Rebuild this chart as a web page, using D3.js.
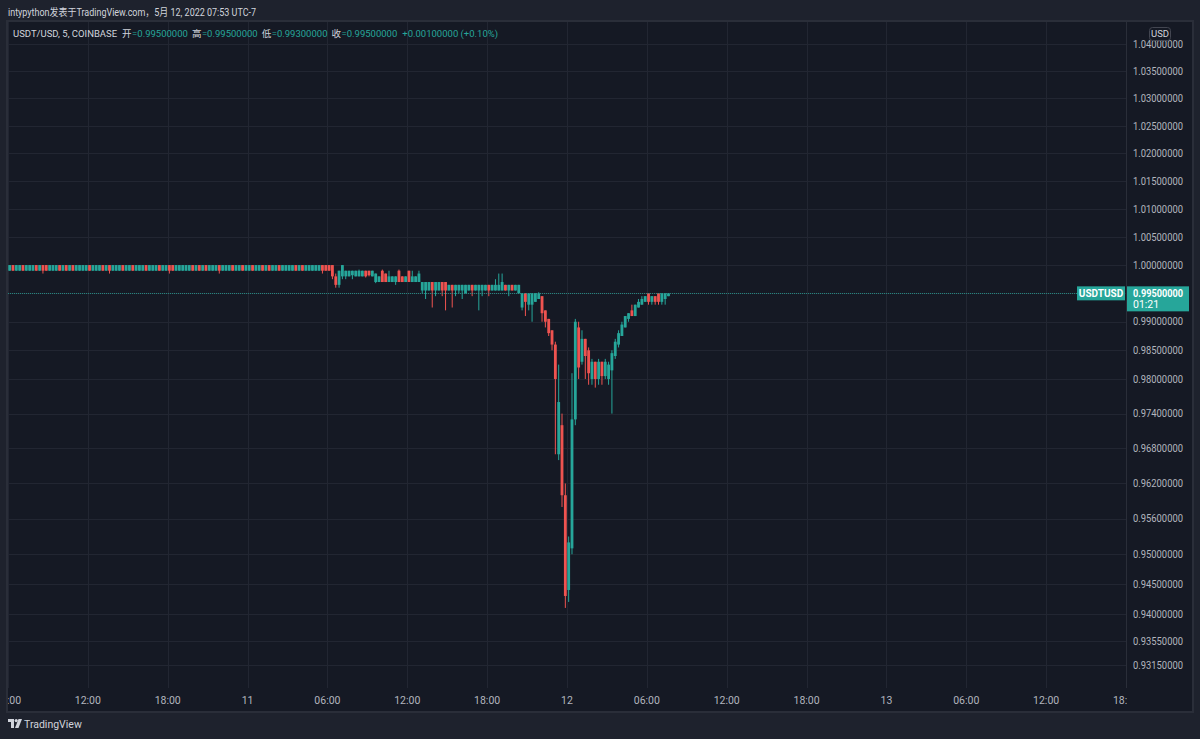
<!DOCTYPE html>
<html><head><meta charset="utf-8">
<script src="https://cdn.jsdelivr.net/npm/d3@7"></script>
<style>
html,body{margin:0;padding:0;background:#1e222d;overflow:hidden;}
svg{display:block;font-family:Roboto,"Noto Sans CJK SC",sans-serif;}
</style></head><body>
<svg id="c" width="1200" height="739"></svg>
<script>
// ---- data (prices in units of 0.0001) ----
const PIP = 1e-4;
const startTime = Date.UTC(2022, 4, 10, 6, 0);
const barMinutes = 15;
const opens = [
9990,10000,9990,9990,10000,9990,9990,9990,10000,9990,
10000,10000,9990,9990,9990,10000,9990,10000,9990,10000,
9990,9990,9990,9990,10000,9990,9990,9990,10000,9990,
10000,9990,9990,9990,10000,9990,9990,10000,9990,9990,
9990,10000,9990,9990,9990,10000,9990,9990,10000,10000,
9990,9990,9990,9990,9990,10000,9990,10000,9990,10000,
9990,9990,9990,10000,9990,9990,9990,10000,9990,9990,
10000,9990,9990,10000,9990,9990,10000,9990,10000,9990,
9990,10000,9990,9990,9990,9990,10000,9990,10000,9990,
9990,9990,9990,9990,10000,10000,10000,10000,9980,9965,
9980,9980,9980,9982,9980,9980,9980,9990,9990,9980,
9970,9970,9990,9985,9970,9970,9970,9990,9980,9970,
9990,9970,9970,9970,9955,9955,9955,9970,9955,9955,
9970,9970,9955,9965,9955,9955,9955,9950,9955,9965,
9955,9955,9955,9955,9965,9955,9955,9955,9955,9965,
9955,9965,9955,9950,9925,9950,9930,9930,9935,9940,
9945,9920,9905,9885,9860,9670,9720,9600,9440,9510,
9730,9890,9830,9870,9850,9800,9830,9800,9830,9805,
9800,9815,9840,9860,9875,9890,9905,9920,9910,9925,
9930,9935,9950,9935,9945,9950,9935,9940,9945];
const highs = [
10000,10000,10000,10000,10000,10000,10000,10000,10000,10000,
10000,10000,10000,10000,10000,10000,10000,10000,10000,10000,
10000,10000,10000,10000,10000,10000,10000,10000,10000,10000,
10000,10000,10000,10000,10000,10000,10000,10000,10000,10000,
10000,10000,10000,10000,10000,10000,10000,10000,10000,10000,
10000,10000,10000,10000,10000,10000,10000,10000,10000,10000,
10000,10000,10000,10000,10000,10000,10000,10000,10000,10000,
10000,10000,10000,10000,10000,10000,10000,10000,10000,10000,
10000,10000,10000,10000,10000,10000,10000,10000,10000,10000,
10000,10000,10000,10000,10000,10000,10000,10000,9985,9990,
10000,9990,9990,9990,9990,9992,9990,9990,9990,9990,
9985,9980,9992,9985,9990,9980,9980,9992,9980,9980,
9990,9990,9980,9990,9970,9970,9970,9970,9970,9970,
9970,9970,9965,9965,9965,9965,9965,9965,9965,9965,
9965,9965,9965,9965,9965,9965,9975,9985,9985,9965,
9965,9965,9965,9965,9950,9950,9950,9950,9950,9952,
9945,9920,9905,9885,9865,9825,9740,9620,9530,9810,
9905,9900,9885,9870,9855,9835,9830,9835,9830,9835,
9830,9850,9870,9885,9900,9910,9915,9930,9930,9940,
9945,9945,9950,9945,9945,9950,9950,9950,9950];
const lows = [
9990,9990,9990,9990,9990,9990,9990,9990,9990,9990,
9985,9990,9990,9990,9990,9990,9990,9990,9990,9990,
9990,9990,9990,9990,9990,9990,9990,9990,9990,9990,
9985,9990,9990,9990,9990,9990,9990,9990,9990,9990,
9990,9990,9990,9990,9990,9990,9990,9990,9985,9990,
9990,9990,9990,9990,9990,9990,9990,9990,9990,9990,
9990,9990,9990,9985,9990,9990,9990,9990,9990,9990,
9990,9990,9990,9990,9990,9990,9990,9990,9990,9990,
9990,9990,9990,9990,9990,9990,9990,9990,9990,9990,
9990,9990,9990,9990,9985,9990,9990,9975,9960,9960,
9975,9975,9980,9975,9980,9980,9980,9978,9980,9980,
9968,9970,9970,9970,9970,9970,9965,9970,9970,9970,
9970,9970,9970,9970,9950,9940,9955,9925,9945,9955,
9945,9920,9955,9925,9945,9950,9940,9950,9955,9945,
9955,9920,9945,9955,9945,9955,9955,9955,9955,9955,
9945,9955,9955,9950,9920,9910,9920,9900,9935,9940,
9900,9890,9875,9850,9670,9660,9580,9410,9420,9500,
9720,9800,9825,9800,9790,9790,9785,9790,9790,9800,
9790,9740,9835,9855,9875,9890,9900,9910,9910,9925,
9930,9935,9930,9930,9930,9930,9930,9930,9945];
const closes = [
10000,9990,10000,10000,9990,10000,10000,10000,9990,10000,
9990,9990,10000,10000,10000,9990,10000,9990,10000,9990,
10000,10000,10000,10000,9990,10000,10000,10000,9990,10000,
9990,10000,10000,10000,9990,10000,10000,9990,10000,10000,
10000,9990,10000,10000,10000,9990,10000,10000,9990,9990,
10000,10000,10000,10000,10000,9990,10000,9990,10000,9990,
10000,10000,10000,9990,10000,10000,10000,9990,10000,10000,
9990,10000,10000,9990,10000,10000,9990,10000,9990,10000,
10000,9990,10000,10000,10000,10000,9990,10000,9990,10000,
10000,10000,10000,10000,9990,9990,9990,9980,9965,9990,
10000,9990,9990,9990,9990,9990,9990,9980,9982,9990,
9985,9980,9970,9970,9980,9980,9980,9970,9970,9980,
9970,9980,9980,9985,9970,9970,9970,9955,9970,9970,
9955,9955,9965,9955,9965,9965,9965,9965,9965,9955,
9965,9965,9965,9965,9955,9965,9965,9965,9970,9955,
9965,9955,9965,9965,9950,9935,9950,9950,9950,9950,
9915,9900,9880,9860,9800,9760,9600,9430,9520,9730,
9900,9820,9870,9840,9810,9830,9800,9830,9805,9830,
9825,9845,9865,9880,9895,9910,9915,9910,9930,9935,
9940,9945,9935,9945,9935,9935,9950,9950,9950];

const priceTicks = [1.04,1.035,1.03,1.025,1.02,1.015,1.01,1.005,1.0,0.995,0.99,0.985,0.98,0.974,0.968,0.962,0.956,0.95,0.945,0.94,0.9355,0.9315];
const timeTicks = [
  Date.UTC(2022,4,10,6), Date.UTC(2022,4,10,12), Date.UTC(2022,4,10,18),
  Date.UTC(2022,4,11,0), Date.UTC(2022,4,11,6), Date.UTC(2022,4,11,12), Date.UTC(2022,4,11,18),
  Date.UTC(2022,4,12,0), Date.UTC(2022,4,12,6), Date.UTC(2022,4,12,12), Date.UTC(2022,4,12,18),
  Date.UTC(2022,4,13,0), Date.UTC(2022,4,13,6), Date.UTC(2022,4,13,12), Date.UTC(2022,4,13,18)];
const timeLabels = ["06:00","12:00","18:00","11","06:00","12:00","18:00","12","06:00","12:00","18:00","13","06:00","12:00","18:00"];
const lastPrice = 0.995;
const countdown = "01:21";
const symbolName = "USDTUSD";
const titleText = "intypython发表于TradingView.com，5月 12, 2022 07:53 UTC-7";
const legendItems = [
  {t:"USDT/USD, 5, COINBASE", c:"#d1d4dc", gap:0},
  {t:"开", c:"#d1d4dc", gap:5}, {t:"=0.99500000", c:"#26a69a", gap:0.5},
  {t:"高", c:"#d1d4dc", gap:4}, {t:"=0.99500000", c:"#26a69a", gap:0.5},
  {t:"低", c:"#d1d4dc", gap:4}, {t:"=0.99300000", c:"#26a69a", gap:0.5},
  {t:"收", c:"#d1d4dc", gap:4}, {t:"=0.99500000", c:"#26a69a", gap:0.5},
  {t:"+0.00100000 (+0.10%)", c:"#26a69a", gap:5}];

// ---- layout ----
const W = 1200, H = 739;
const pane = {x0: 8, x1: 1126, y0: 22, y1: 688};
const UP = "#26a69a", DOWN = "#ef5350";
const BG = "#151924", OUTER = "#1e222d", GRID = "#222632", BORDER = "#2a2e39", TXT = "#b2b5be";

const svg = d3.select("#c");
svg.append("rect").attr("width", W).attr("height", H).attr("fill", OUTER);
svg.append("rect").attr("x", 7).attr("y", 21).attr("width", 1186).attr("height", 691)
  .attr("fill", BG).attr("stroke", BORDER).attr("stroke-width", 2);

const x = d3.scaleUtc().domain([Date.UTC(2022,4,10,6), Date.UTC(2022,4,13,18)]).range([pane.x0, pane.x1]);
const y = d3.scaleLog().domain([0.92773, 1.04406]).range([pane.y1, pane.y0]);

const defs = svg.append("defs");
defs.append("clipPath").attr("id", "pc").append("rect")
  .attr("x", pane.x0).attr("y", pane.y0).attr("width", pane.x1 - pane.x0).attr("height", pane.y1 - pane.y0);
defs.append("clipPath").attr("id", "tc").append("rect")
  .attr("x", pane.x0).attr("y", pane.y1).attr("width", pane.x1 - pane.x0 + 1).attr("height", 24);

const g = svg.append("g").attr("clip-path", "url(#pc)");
// grid
g.selectAll("line.hg").data(priceTicks).join("line")
  .attr("x1", pane.x0).attr("x2", pane.x1)
  .attr("y1", d => Math.round(y(d)) + 0.5).attr("y2", d => Math.round(y(d)) + 0.5)
  .attr("stroke", GRID).attr("stroke-width", 1);
g.selectAll("line.vg").data(timeTicks).join("line")
  .attr("x1", d => Math.round(x(d)) + 0.5).attr("x2", d => Math.round(x(d)) + 0.5)
  .attr("y1", pane.y0).attr("y2", pane.y1)
  .attr("stroke", GRID).attr("stroke-width", 1);

// candles
const bars = opens.map((o, i) => ({
  t: startTime + i * barMinutes * 60000,
  o: o * PIP, h: highs[i] * PIP, l: lows[i] * PIP, c: closes[i] * PIP
}));
const step = x(startTime + barMinutes * 60000) - x(startTime);
const bodyW = step * 0.85;
const cg = g.append("g");
cg.selectAll("line.w").data(bars).join("line")
  .attr("x1", d => x(d.t) + step / 2).attr("x2", d => x(d.t) + step / 2)
  .attr("y1", d => y(d.h)).attr("y2", d => y(d.l))
  .attr("stroke", d => d.c >= d.o ? UP : DOWN).attr("stroke-width", 1);
cg.selectAll("rect.b").data(bars).join("rect")
  .attr("x", d => x(d.t) + (step - bodyW) / 2).attr("width", bodyW)
  .attr("y", d => y(Math.max(d.o, d.c)))
  .attr("height", d => Math.max(1, y(Math.min(d.o, d.c)) - y(Math.max(d.o, d.c))))
  .attr("fill", d => d.c >= d.o ? UP : DOWN);

// last price line
g.append("line").attr("x1", pane.x0).attr("x2", pane.x1)
  .attr("y1", Math.round(y(lastPrice)) + 0.5).attr("y2", Math.round(y(lastPrice)) + 0.5)
  .attr("stroke", UP).attr("stroke-opacity", 0.75).attr("stroke-width", 1).attr("stroke-dasharray", "1,1")
  .attr("shape-rendering", "crispEdges");

// price axis separator
svg.append("line").attr("x1", pane.x1 + 0.5).attr("x2", pane.x1 + 0.5).attr("y1", pane.y0).attr("y2", pane.y1)
  .attr("stroke", BORDER).attr("stroke-width", 1);

// price axis labels
const pa = svg.append("g").attr("font-size", "10.5px").attr("fill", TXT);
pa.selectAll("text").data(priceTicks.filter(d => d !== lastPrice)).join("text")
  .attr("x", 1133).attr("y", d => y(d)).attr("dy", "0.35em")
  .attr("textLength", 50).attr("lengthAdjust", "spacingAndGlyphs")
  .text(d => d.toFixed(8));

// USD box
svg.append("rect").attr("x", 1149.5).attr("y", 27.5).attr("width", 21).attr("height", 13).attr("rx", 3)
  .attr("fill", BG).attr("stroke", "#434651");
svg.append("text").attr("x", 1160).attr("y", 34).attr("dy", "0.35em").attr("text-anchor", "middle")
  .attr("font-size", "9.5px").attr("fill", "#d1d4dc").text("USD");

// last price labels
const yp = y(lastPrice);
svg.append("rect").attr("x", 1077).attr("y", yp - 7).attr("width", 48).attr("height", 14).attr("fill", UP);
svg.append("text").attr("x", 1101).attr("y", yp).attr("dy", "0.35em").attr("text-anchor", "middle")
  .attr("font-size", "10px").attr("font-weight", "bold").attr("fill", "#ffffff").text(symbolName);
svg.append("rect").attr("x", 1127).attr("y", yp - 7).attr("width", 62).attr("height", 25).attr("fill", UP);
svg.append("text").attr("x", 1133).attr("y", yp).attr("dy", "0.35em")
  .attr("textLength", 50).attr("lengthAdjust", "spacingAndGlyphs")
  .attr("font-size", "10.5px").attr("font-weight", "bold").attr("fill", "#ffffff").text(lastPrice.toFixed(8));
svg.append("text").attr("x", 1133).attr("y", yp + 11).attr("dy", "0.35em")
  .attr("font-size", "10.5px").attr("fill", "#ffffff").text(countdown);

// time axis
const ta = svg.append("g").attr("clip-path", "url(#tc)").attr("font-size", "10.5px").attr("fill", TXT);
ta.selectAll("text").data(timeTicks).join("text")
  .attr("x", d => x(d)).attr("y", 700).attr("dy", "0.35em").attr("text-anchor", "middle")
  .text((d, i) => timeLabels[i]);

// title & legend
svg.append("text").attr("x", 8).attr("y", 12).attr("dy", "0.35em")
  .attr("font-size", "10.5px").attr("fill", "#d1d4dc")
  .attr("textLength", 248).attr("lengthAdjust", "spacingAndGlyphs").text(titleText);
let lx = 13;
legendItems.forEach(d => {
  lx += d.gap;
  const t = svg.append("text").attr("x", lx).attr("y", 34).attr("dy", "0.35em")
    .attr("font-size", "9.5px").attr("fill", d.c).text(d.t);
  lx += t.node().getComputedTextLength();
});

// footer logo
const lg = svg.append("g").attr("transform", "translate(8,719)").attr("fill", "#d1d4dc");
lg.append("path").attr("d", "M0 0 H6 V9 H3 V3 H0 Z");
lg.append("circle").attr("cx", 8.2).attr("cy", 1.6).attr("r", 1.6);
lg.append("path").attr("d", "M10.5 0 H14 L10.5 9 H7 Z");
svg.append("text").attr("x", 24).attr("y", 724).attr("dy", "0.35em")
  .attr("font-size", "10.5px").attr("fill", "#d1d4dc").text("TradingView");
</script>
</body></html>
